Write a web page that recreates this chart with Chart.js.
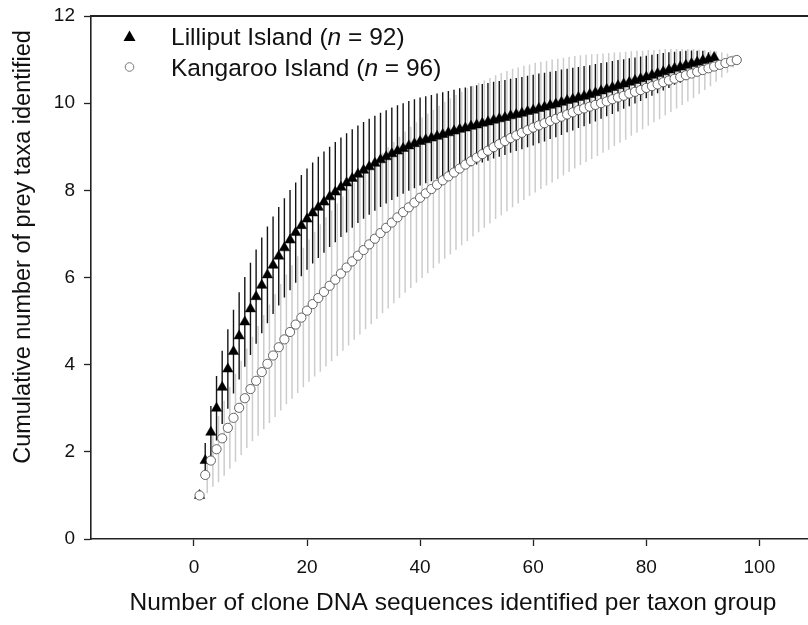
<!DOCTYPE html>
<html>
<head>
<meta charset="utf-8">
<script src="https://cdn.jsdelivr.net/npm/chart.js@4.4.1/dist/chart.umd.min.js"></script>
<style>
  html, body { margin: 0; padding: 0; background: #fff; }
  #wrap { width: 808px; height: 625px; position: relative; }
</style>
</head>
<body>
<div id="wrap"><canvas id="chart" width="808" height="625"></canvas></div>
<script>
// Series values (x = 1, 2, 3 ... sequences)
const lilliputMean = [
  1.00, 1.80, 2.45, 3.00, 3.48, 3.90, 4.30, 4.66, 4.98, 5.28,
  5.56, 5.82, 6.06, 6.28, 6.49, 6.68, 6.86, 7.03, 7.19, 7.34,
  7.48, 7.61, 7.73, 7.85, 7.96, 8.07, 8.17, 8.27, 8.37, 8.46,
  8.54, 8.62, 8.70, 8.77, 8.84, 8.90, 8.96, 9.02, 9.07, 9.12,
  9.16, 9.20, 9.24, 9.28, 9.32, 9.36, 9.40, 9.43, 9.47, 9.50,
  9.54, 9.57, 9.61, 9.64, 9.67, 9.71, 9.74, 9.77, 9.81, 9.84,
  9.88, 9.91, 9.95, 9.98, 10.02, 10.06, 10.09, 10.13, 10.16, 10.20,
  10.24, 10.28, 10.32, 10.36, 10.40, 10.44, 10.48, 10.52, 10.56, 10.60,
  10.64, 10.68, 10.72, 10.76, 10.80, 10.83, 10.87, 10.91, 10.94, 10.98,
  11.01, 11.05
];
const lilliputSD = [
  0.00, 0.40, 0.60, 0.74, 0.84, 0.91, 0.96, 1.00, 1.03, 1.06,
  1.08, 1.10, 1.11, 1.12, 1.13, 1.14, 1.15, 1.15, 1.16, 1.16,
  1.16, 1.16, 1.16, 1.15, 1.15, 1.14, 1.14, 1.13, 1.12, 1.11,
  1.10, 1.09, 1.08, 1.07, 1.06, 1.05, 1.04, 1.03, 1.02, 1.01,
  1.00, 0.99, 0.98, 0.97, 0.96, 0.95, 0.94, 0.93, 0.92, 0.91,
  0.90, 0.89, 0.88, 0.87, 0.86, 0.85, 0.84, 0.83, 0.82, 0.81,
  0.80, 0.79, 0.77, 0.76, 0.75, 0.73, 0.72, 0.70, 0.69, 0.67,
  0.66, 0.64, 0.62, 0.61, 0.59, 0.57, 0.55, 0.53, 0.51, 0.49,
  0.47, 0.45, 0.43, 0.41, 0.38, 0.36, 0.33, 0.30, 0.26, 0.22,
  0.16, 0.08
];
const kangarooMean = [
  1.00, 1.47, 1.80, 2.06, 2.31, 2.55, 2.78, 3.01, 3.23, 3.44,
  3.63, 3.83, 4.02, 4.21, 4.40, 4.58, 4.75, 4.92, 5.08, 5.24,
  5.39, 5.53, 5.67, 5.81, 5.95, 6.09, 6.23, 6.37, 6.50, 6.63,
  6.76, 6.89, 7.02, 7.14, 7.26, 7.38, 7.50, 7.61, 7.72, 7.83,
  7.93, 8.03, 8.13, 8.23, 8.32, 8.41, 8.50, 8.59, 8.67, 8.75,
  8.83, 8.91, 8.99, 9.06, 9.13, 9.20, 9.26, 9.32, 9.38, 9.44,
  9.49, 9.54, 9.59, 9.64, 9.69, 9.74, 9.79, 9.84, 9.88, 9.92,
  9.96, 10.00, 10.04, 10.09, 10.13, 10.17, 10.22, 10.26, 10.30, 10.35,
  10.39, 10.43, 10.48, 10.52, 10.56, 10.60, 10.64, 10.68, 10.72, 10.76,
  10.80, 10.84, 10.88, 10.92, 10.96, 10.99
];
const kangarooSD = [
  0.00, 0.42, 0.60, 0.76, 0.86, 0.94, 1.01, 1.08, 1.14, 1.20,
  1.26, 1.31, 1.36, 1.41, 1.45, 1.49, 1.53, 1.57, 1.60, 1.63,
  1.66, 1.69, 1.71, 1.73, 1.75, 1.77, 1.79, 1.80, 1.81, 1.82,
  1.83, 1.84, 1.84, 1.85, 1.85, 1.85, 1.85, 1.85, 1.84, 1.84,
  1.83, 1.82, 1.81, 1.80, 1.79, 1.78, 1.76, 1.75, 1.73, 1.71,
  1.69, 1.67, 1.65, 1.63, 1.61, 1.59, 1.56, 1.54, 1.51, 1.49,
  1.46, 1.43, 1.41, 1.38, 1.35, 1.32, 1.29, 1.26, 1.23, 1.20,
  1.17, 1.14, 1.11, 1.07, 1.04, 1.01, 0.97, 0.94, 0.90, 0.87,
  0.83, 0.80, 0.76, 0.72, 0.68, 0.64, 0.60, 0.56, 0.51, 0.46,
  0.41, 0.35, 0.29, 0.22, 0.14, 0.05
];

// Axis ticks and texts
const xTickValues = [0, 20, 40, 60, 80, 100];
const yTickValues = [0, 2, 4, 6, 8, 10, 12];
const xTitle = 'Number of clone DNA sequences identified per taxon group';
const yTitle = 'Cumulative number of prey taxa identified';
const legendItems = [
  { name: 'Lilliput Island', n: 92 },
  { name: 'Kangaroo Island', n: 96 }
];

const FONT = "'Liberation Sans', Arial, sans-serif";

function toPoints(means) {
    return means.map((y, i) => ({ x: i + 1, y: y }));
}

// Vertical error bars (mean +/- SD), drawn underneath the markers
const errorBarPlugin = {
    id: 'errorBars',
    beforeDatasetsDraw(chart) {
        const { ctx, scales: { x, y } } = chart;
        const drawBars = (means, sds, color, width, shift) => {
            ctx.strokeStyle = color;
            ctx.lineWidth = width;
            ctx.beginPath();
            means.forEach((m, i) => {
                if (sds[i] <= 0) return;
                const px = x.getPixelForValue(i + 1) + shift;
                ctx.moveTo(px, y.getPixelForValue(m + sds[i]));
                ctx.lineTo(px, y.getPixelForValue(m - sds[i]));
            });
            ctx.stroke();
        };
        ctx.save();
        drawBars(kangarooMean, kangarooSD, '#cdcdcd', 1.5, 2);
        drawBars(lilliputMean, lilliputSD, '#151515', 1.4, 0);
        ctx.restore();
    }
};

// Top frame line, axis titles and the legend (italic n needs manual text)
const decorPlugin = {
    id: 'decor',
    afterDraw(chart) {
        const { ctx, chartArea } = chart;
        ctx.save();
        ctx.strokeStyle = '#222';
        ctx.lineWidth = 2;
        ctx.beginPath();
        ctx.moveTo(chartArea.left, chartArea.top);
        ctx.lineTo(chartArea.right, chartArea.top);
        ctx.stroke();

        ctx.fillStyle = '#111';
        ctx.font = `24.5px ${FONT}`;
        ctx.textAlign = 'center';
        ctx.textBaseline = 'middle';
        ctx.fillText(xTitle, 453, 603);

        ctx.font = `23.5px ${FONT}`;
        ctx.translate(24, 247);
        ctx.rotate(-Math.PI / 2);
        ctx.fillText(yTitle, 0, 0);
        ctx.restore();

        // legend
        ctx.save();
        const rows = [36, 67];
        legendItems.forEach((item, i) => {
            const cy = rows[i];
            if (i === 0) {
                ctx.fillStyle = '#000';
                ctx.beginPath();
                ctx.moveTo(129.5, cy - 5.5);
                ctx.lineTo(135.5, cy + 5);
                ctx.lineTo(123.5, cy + 5);
                ctx.closePath();
                ctx.fill();
            } else {
                ctx.fillStyle = '#fff';
                ctx.strokeStyle = '#777';
                ctx.lineWidth = 1;
                ctx.beginPath();
                ctx.arc(129.5, cy, 4.3, 0, Math.PI * 2);
                ctx.fill();
                ctx.stroke();
            }
            ctx.fillStyle = '#111';
            ctx.textBaseline = 'middle';
            ctx.textAlign = 'left';
            let tx = 171;
            const parts = [
                { t: item.name + ' (', f: `24.5px ${FONT}` },
                { t: 'n', f: `italic 24.5px ${FONT}` },
                { t: ' = ' + item.n + ')', f: `24.5px ${FONT}` }
            ];
            parts.forEach(p => {
                ctx.font = p.f;
                ctx.fillText(p.t, tx, cy + 2);
                tx += ctx.measureText(p.t).width;
            });
        });
        ctx.restore();
    }
};

const ctx = document.getElementById('chart').getContext('2d');
new Chart(ctx, {
    type: 'scatter',
    data: {
        datasets: [
            {
                label: 'Kangaroo Island',
                data: toPoints(kangarooMean),
                pointStyle: 'circle',
                pointRadius: 4.6,
                backgroundColor: '#ffffff',
                borderColor: '#555555',
                borderWidth: 0.9,
                order: 0
            },
            {
                label: 'Lilliput Island',
                data: toPoints(lilliputMean),
                pointStyle: 'triangle',
                pointRadius: 6,
                backgroundColor: '#000000',
                borderColor: '#000000',
                borderWidth: 0.5,
                order: 1
            }
        ]
    },
    options: {
        responsive: false,
        animation: false,
        devicePixelRatio: 1,
        layout: { autoPadding: false, padding: { top: 16, right: 0, left: 0, bottom: 0 } },
        plugins: {
            legend: { display: false },
            tooltip: { enabled: false }
        },
        scales: {
            x: {
                type: 'linear',
                min: -18.2,
                max: 108.6,
                afterBuildTicks: (scale) => { scale.ticks = xTickValues.map(v => ({ value: v })); },
                afterFit: (scale) => {
                    scale.height = 86;
                    scale.paddingLeft = 0;
                    scale.paddingRight = 0;
                },
                ticks: { font: { family: FONT, size: 19 }, color: '#111', padding: 10, maxRotation: 0 },
                grid: { drawOnChartArea: false, drawTicks: true, tickLength: 7, tickColor: '#222', tickWidth: 1.3 },
                border: { color: '#222', width: 1.6 },
                title: { display: false }
            },
            y: {
                type: 'linear',
                min: 0,
                max: 12,
                afterBuildTicks: (scale) => { scale.ticks = yTickValues.map(v => ({ value: v })); },
                afterFit: (scale) => {
                    scale.width = 91;
                    scale.paddingTop = 0;
                    scale.paddingBottom = 0;
                },
                ticks: { font: { family: FONT, size: 19 }, color: '#111', padding: 9 },
                grid: { drawOnChartArea: false, drawTicks: true, tickLength: 7, tickColor: '#222', tickWidth: 1.3 },
                border: { color: '#222', width: 1.6 },
                title: { display: false }
            }
        }
    },
    plugins: [errorBarPlugin, decorPlugin]
});
</script>
</body>
</html>
